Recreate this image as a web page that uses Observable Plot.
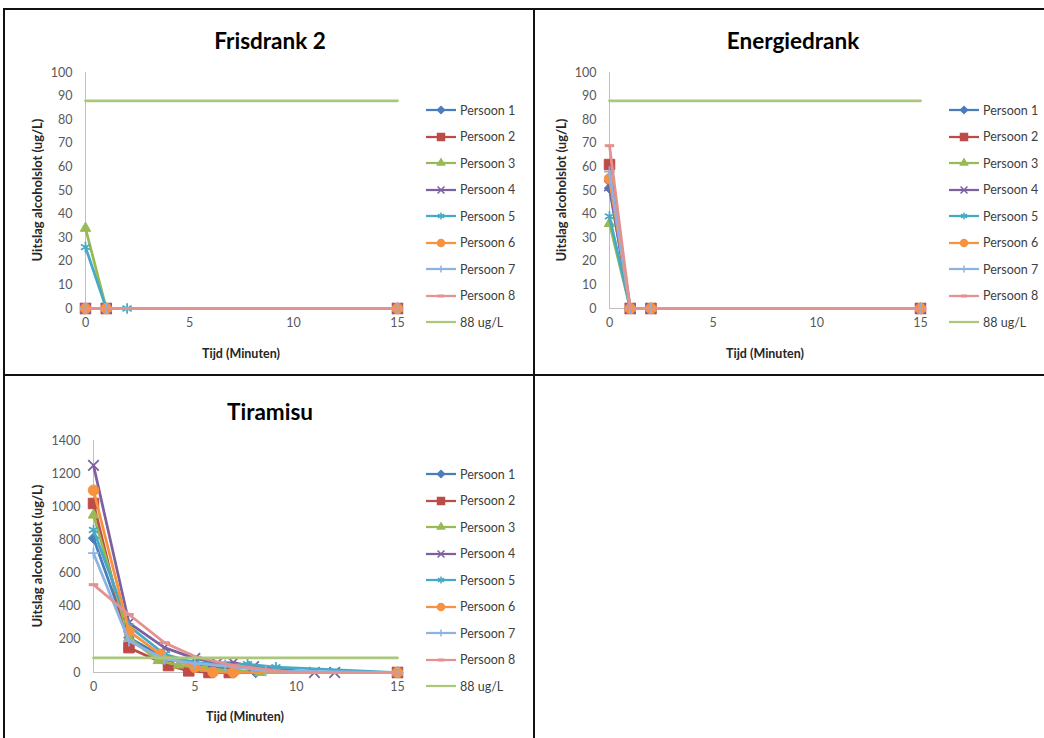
<!DOCTYPE html>
<html><head><meta charset="utf-8">
<script src="https://cdn.jsdelivr.net/npm/d3@7"></script>
<script src="https://cdn.jsdelivr.net/npm/@observablehq/plot@0.6"></script>
<style>
body{margin:0;width:1044px;height:738px;overflow:hidden;background:#fff;font-family:Lato,"Open Sans",sans-serif;position:relative}
.abs{position:absolute}
.line{position:absolute;background:#111}
.title{position:absolute;transform:translate(-50%,-50%);font-weight:700;font-size:22.5px;color:#000;white-space:nowrap}
.xl{position:absolute;transform:translate(-50%,-50%);font-weight:700;font-size:12.5px;color:#262626;white-space:nowrap}
.yl{position:absolute;transform:translate(-50%,-50%) rotate(-90deg);font-weight:700;font-size:13px;color:#262626;white-space:nowrap}
.leg{position:absolute;display:flex;align-items:center;height:16px;font-size:12.5px;color:#404040;white-space:nowrap}
.leg svg{margin-right:3px}
</style></head>
<body>
<div id="root"></div>
<script>
// ---------- data ----------
const personen = ["Persoon 1","Persoon 2","Persoon 3","Persoon 4","Persoon 5","Persoon 6","Persoon 7","Persoon 8"];
const grensNaam = "88 ug/L";
const grensTijd = [0, 15];
const grensWaarde = [88, 88];

const titels = ["Frisdrank 2", "Energiedrank", "Tiramisu"];
const xTitel = "Tijd (Minuten)";
const yTitel = "Uitslag alcoholslot (ug/L)";
const xTicks = [0, 5, 10, 15];
const yTicksDrank = [0,10,20,30,40,50,60,70,80,90,100];
const yTicksTiramisu = [0,200,400,600,800,1000,1200,1400];

const frisdrankTijd = [[0,1,15],[0,1,15],[0,1,15],[0,1,15],[0,1,2,15],[0,1,15],[0,1,15],[0,1,15]];
const frisdrankWaarde = [[0,0,0],[0,0,0],[34,0,0],[0,0,0],[26,0,0,0],[0,0,0],[0,0,0],[0,0,0]];

const energieTijd = [[0,1,2,15],[0,1,2,15],[0,1,2,15],[0,1,2,15],[0,1,2,15],[0,1,2,15],[0,1,2,15],[0,1,2,15]];
const energieWaarde = [[51,0,0,0],[61,0,0,0],[36,0,0,0],[52,0,0,0],[39,0,0,0],[55,0,0,0],[58,0,0,0],[69,0,0,0]];

const tiramisuTijd = [
  [0,1.75,3.5,5,6.5,8,15],
  [0,1.75,3.7,4.7,5.7,6.7,15],
  [0,1.75,3.2,4.2,5.5,7,8.2,15],
  [0,1.75,3.5,5,6.1,6.9,7.9,10.9,11.9,15],
  [0,1.75,3.5,5,6.5,7.6,9,15],
  [0,1.75,3.3,5,5.9,6.9,15],
  [0,1.75,3.5,5,6.5,8.5,15],
  [0,1.75,3.5,5.1,7,9.9,15]
];
const tiramisuWaarde = [
  [810,210,90,50,20,0,0],
  [1020,150,42,10,0,0,0],
  [950,210,72,45,25,10,0,0],
  [1250,300,150,85,57,60,35,0,0,0],
  [860,280,110,60,45,50,32,0],
  [1100,250,110,32,2,0,0],
  [720,190,80,55,40,10,0],
  [530,350,180,92,40,0,0]
];

// ---------- styles ----------
const kleuren = ["#4a7ebb","#be4b48","#98b954","#7d60a0","#46aac5","#f69240","#8db3e2","#e4928f"];
const grensKleur = "#abc77b";
const dash = {draw(ctx, size){ const r = Math.sqrt(size / Math.PI); ctx.moveTo(-r, 0); ctx.lineTo(r, 0); }};
const symbolen = [d3.symbolDiamond2, d3.symbolSquare, d3.symbolTriangle, d3.symbolTimes, d3.symbolAsterisk, d3.symbolCircle, d3.symbolPlus, dash];
const gevuld = [true,true,true,false,false,true,false,false];
// radius (Plot r) that gives each symbol a bounding box of 1 px
const radiusPerPx = [0.45, 0.564, 0.371, 0.462, 0.475, 0.5, 0.34, 0.45];
const markerBox = 10.5;
const legendBox = 7;

const root = document.getElementById("root");
function add(cls, text, x, y){
  const d = document.createElement("div"); d.className = cls; d.textContent = text;
  d.style.left = x + "px"; d.style.top = y + "px"; root.appendChild(d); return d;
}
function box(x, y, w, h){
  const d = document.createElement("div"); d.className = "line";
  Object.assign(d.style, {left:x+"px", top:y+"px", width:w+"px", height:h+"px"}); root.appendChild(d);
}

function chart(tijd, waarde, yMax, yTicks, pos){
  const marks = [
    Plot.ruleX([0], {stroke:"#bfbfbf", strokeWidth:1}),
    Plot.ruleY([0], {stroke:"#bfbfbf", strokeWidth:1})
  ];
  personen.forEach((p, i) => {
    const data = tijd[i].map((t, j) => ({t, v: waarde[i][j]}));
    marks.push(Plot.line(data, {x:"t", y:"v", stroke:kleuren[i], strokeWidth:2.75, strokeLinejoin:"round", strokeLinecap:"round"}));
    marks.push(Plot.dot(data, {x:"t", y:"v", symbol:symbolen[i], r:radiusPerPx[i]*markerBox,
      fill: gevuld[i] ? kleuren[i] : "none", stroke:kleuren[i], strokeWidth: i===7 ? 3 : (gevuld[i] ? 1 : 1.75)}));
  });
  const grens = grensTijd.map((t, j) => ({t, v: grensWaarde[j]}));
  marks.push(Plot.line(grens, {x:"t", y:"v", stroke:grensKleur, strokeWidth:2.75}));
  const svg = Plot.plot({
    width: pos.w, height: pos.h,
    marginLeft: pos.ml, marginRight: pos.mr, marginTop: pos.mt, marginBottom: pos.mb,
    style: {background:"transparent", fontFamily:"Lato, sans-serif", fontSize:"12.5px", color:"#595959", overflow:"visible"},
    x: {domain:[0,15], ticks:xTicks, tickSize:0, tickPadding:10, label:null},
    y: {domain:[0,yMax], ticks:yTicks, tickSize:0, tickPadding:13, label:null, tickFormat:d3.format("d")},
    marks
  });
  const wrap = document.createElement("div");
  wrap.className = "abs";
  Object.assign(wrap.style, {left:pos.x+"px", top:pos.y+"px", width:pos.w+"px", height:pos.h+"px"});
  wrap.appendChild(svg); root.appendChild(wrap);
}

function legend(x, y0){
  const names = personen.concat([grensNaam]);
  names.forEach((n, i) => {
    const row = document.createElement("div"); row.className = "leg";
    row.style.left = x + "px"; row.style.top = (y0 + i*26.5 - 8) + "px";
    const kleur = i < 8 ? kleuren[i] : grensKleur;
    let marker = "";
    if (i < 8) {
      const r = radiusPerPx[i] * legendBox;
      const path = d3.symbol().type(symbolen[i]).size(r * r * Math.PI)();
      marker = `<path transform="translate(16,8)" d="${path}" fill="${gevuld[i]?kleur:"none"}" stroke="${kleur}" stroke-width="${i===7?3:1.5}"/>`;
    }
    row.innerHTML = `<svg width="32" height="16"><line x1="1" x2="31" y1="8" y2="8" stroke="${kleur}" stroke-width="2.25"/>${marker}</svg><span>${n}</span>`;
    root.appendChild(row);
  });
}

// panels
chart(frisdrankTijd, frisdrankWaarde, 100, yTicksDrank, {x:10, y:60, w:410, h:312, ml:75, mr:23, mt:12, mb:64});
chart(energieTijd, energieWaarde, 100, yTicksDrank, {x:540, y:60, w:400, h:312, ml:69, mr:20, mt:12, mb:64});
chart(tiramisuTijd, tiramisuWaarde, 1400, yTicksTiramisu, {x:10, y:428, w:410, h:290, ml:83, mr:23, mt:12, mb:46});

add("title", titels[0], 270, 40);
add("title", titels[1], 793, 40);
add("title", titels[2], 270, 411);
add("xl", xTitel, 241, 353);
add("xl", xTitel, 765, 353);
add("xl", xTitel, 245, 716);
add("yl", yTitel, 37, 190);
add("yl", yTitel, 561, 190);
add("yl", yTitel, 37, 556);

legend(425, 110);
legend(948, 110);
legend(425, 474);

// borders
box(3, 8, 1041, 2);
box(3, 8, 2, 730);
box(533, 8, 2, 730);
box(3, 374, 1041, 2);
</script>
</body></html>
